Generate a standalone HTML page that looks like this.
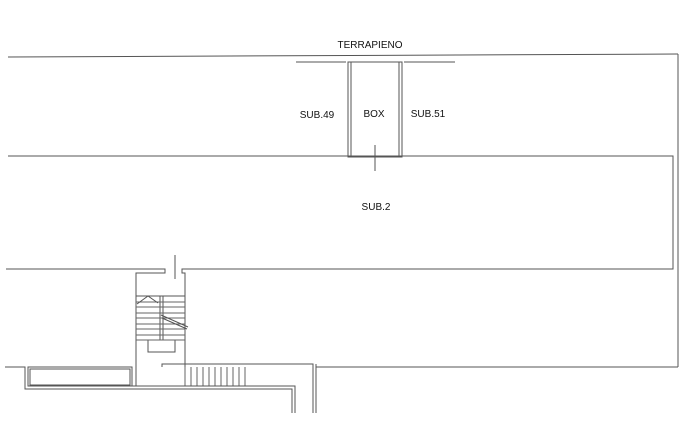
<!DOCTYPE html>
<html><head><style>html,body{margin:0;padding:0;background:#fff}svg{display:block}text{font-family:"Liberation Sans",sans-serif;font-size:10px;fill:#111}</style></head><body>
<svg width="692" height="434" viewBox="0 0 692 434" xmlns="http://www.w3.org/2000/svg">
<g fill="none" stroke="#555" stroke-width="1">
<line x1="8" y1="57" x2="678" y2="54"/>
<line x1="678" y1="54" x2="678" y2="367"/>
<line x1="296" y1="62" x2="346" y2="62"/>
<line x1="404" y1="62" x2="455" y2="62"/>
<rect x="348" y="62" width="54" height="95"/>
<rect x="351" y="62" width="48" height="94"/>
<line x1="375" y1="145" x2="375" y2="171"/>
<polyline points="8,156 673,156 673,269 182,269 182,273 185,273 185,367"/>
<polyline points="6,269 165,269 165,273 136,273 136,386"/>
<line x1="175" y1="255" x2="175" y2="279"/>
<line x1="136" y1="296" x2="185" y2="296"/>
<line x1="160" y1="296" x2="160" y2="340"/>
<line x1="163" y1="296" x2="163" y2="340"/>
<rect x="148" y="340" width="27" height="12"/>
<g stroke="#666"><line x1="136" y1="302" x2="185" y2="302"/><line x1="136" y1="307" x2="185" y2="307"/><line x1="136" y1="313" x2="185" y2="313"/><line x1="136" y1="318" x2="185" y2="318"/><line x1="136" y1="324" x2="185" y2="324"/><line x1="136" y1="329" x2="185" y2="329"/><line x1="136" y1="335" x2="185" y2="335"/><line x1="136" y1="340" x2="185" y2="340"/></g>
<polyline points="137,304 148,296 158,303"/>
<line x1="161" y1="315" x2="188" y2="327"/><line x1="162" y1="318" x2="187" y2="329"/>
<polyline points="162,367 162,364 313,364 313,413"/>
<line x1="316" y1="364" x2="316" y2="413"/>
<line x1="316" y1="367" x2="678" y2="367"/>
<g stroke="#666"><line x1="185" y1="367" x2="185" y2="386"/><line x1="191" y1="367" x2="191" y2="386"/><line x1="197" y1="367" x2="197" y2="386"/><line x1="203" y1="367" x2="203" y2="386"/><line x1="209" y1="367" x2="209" y2="386"/><line x1="215" y1="367" x2="215" y2="386"/><line x1="221" y1="367" x2="221" y2="386"/><line x1="227" y1="367" x2="227" y2="386"/><line x1="233" y1="367" x2="233" y2="386"/><line x1="239" y1="367" x2="239" y2="386"/><line x1="245" y1="367" x2="245" y2="386"/></g>
<polyline points="5,367 25,367 25,389 292,389 292,413"/>
<polyline points="28,370 28,386 295,386 295,413"/>
<rect x="28" y="367" width="104" height="19"/>
<rect x="30" y="369" width="100" height="16"/>
</g>
<text x="370" y="48" text-anchor="middle">TERRAPIENO</text>
<text x="317" y="118" text-anchor="middle">SUB.49</text>
<text x="374" y="117" text-anchor="middle">BOX</text>
<text x="428" y="117" text-anchor="middle">SUB.51</text>
<text x="376" y="210" text-anchor="middle">SUB.2</text>
</svg>
</body></html>
